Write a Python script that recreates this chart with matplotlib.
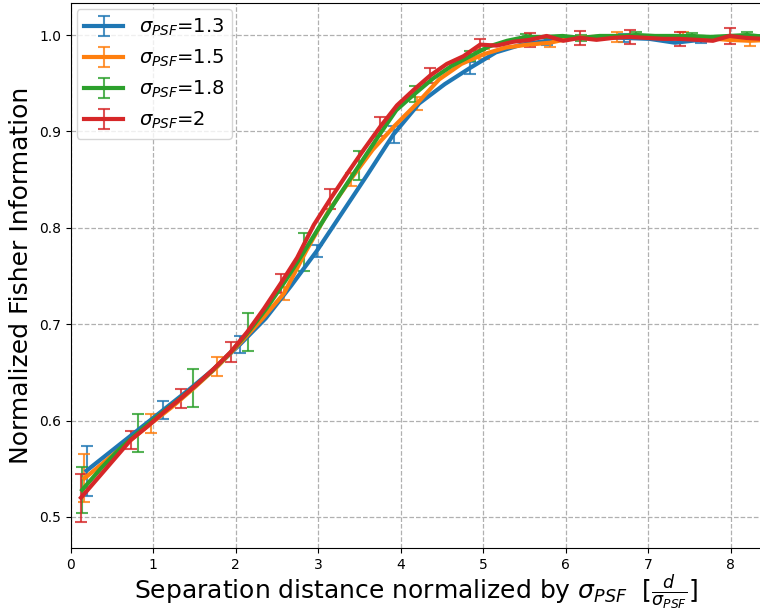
import numpy as np
import matplotlib
matplotlib.use("Agg")
import matplotlib.pyplot as plt

# separation in pixels, sampled on a common grid; x axis is d / sigma_PSF
separation_px = np.array([
    0.250, 0.653, 1.056, 1.459, 1.862, 2.265, 2.668, 3.071, 3.474, 3.877,
    4.280, 4.683, 5.086, 5.489, 5.892, 6.295, 6.698, 7.101, 7.504, 7.907,
    8.310, 8.713, 9.116, 9.519, 9.922, 10.325, 10.728, 11.131, 11.534, 11.937,
    12.340, 12.743, 13.146, 13.549, 13.952, 14.355, 14.758, 15.161, 15.564, 15.967,
    16.370, 16.773, 17.176,
])

sigmas = [1.3, 1.5, 1.8, 2]
colors = ["#1f77b4", "#ff7f0e", "#2ca02c", "#d62728"]

fisher_13 = [
    0.548, 0.569, 0.590, 0.611, 0.632, 0.654, 0.679, 0.706, 0.740, 0.776,
    0.816, 0.856, 0.897, 0.929, 0.949, 0.966, 0.982, 0.990, 0.994, 0.997,
    0.998, 0.997, 0.996, 0.992, 0.995, 0.998, 0.999, 0.998,
]
err_13 = [0.026, 0.009, 0.009, 0.006, 0.009, 0.006, 0.004, 0.004, 0.003, 0.003]

fisher_15 = [
    0.540, 0.559, 0.578, 0.597, 0.615, 0.635, 0.656, 0.680, 0.705, 0.732,
    0.776, 0.817, 0.850, 0.881, 0.906, 0.929, 0.954, 0.970, 0.980, 0.987,
    0.990, 0.992, 0.997, 0.998, 0.998, 0.998, 0.998, 0.999, 0.997, 0.995,
    0.994, 0.995,
]
err_15 = [0.025, 0.010, 0.010, 0.007, 0.007, 0.007, 0.005, 0.004, 0.005, 0.004, 0.005]

fisher_18 = [
    0.528, 0.550, 0.570, 0.587, 0.603, 0.618, 0.634, 0.651, 0.670, 0.692,
    0.717, 0.745, 0.775, 0.806, 0.836, 0.865, 0.894, 0.922, 0.939, 0.955,
    0.968, 0.978, 0.988, 0.994, 0.998, 0.998, 0.999, 0.997, 0.999, 0.999,
    1.000, 0.999, 0.999, 0.999, 0.998, 0.999, 1.000, 0.998,
]
err_18 = [0.024, 0.020, 0.020, 0.020, 0.020, 0.015, 0.008, 0.005, 0.003, 0.003, 0.003, 0.003, 0.003]

fisher_20 = [
    0.520, 0.540, 0.560, 0.580, 0.594, 0.609, 0.623, 0.638, 0.654, 0.671,
    0.692, 0.716, 0.742, 0.769, 0.803, 0.830, 0.856, 0.881, 0.905, 0.927,
    0.943, 0.958, 0.970, 0.978, 0.990, 0.989, 0.993, 0.995, 0.999, 0.994,
    0.997, 0.995, 0.997, 0.998, 0.997, 0.996, 0.996, 0.995, 0.994, 0.999,
    0.997, 0.996, 0.996,
]
err_20 = [0.025, 0.009, 0.010, 0.010, 0.010, 0.010, 0.010, 0.008, 0.006, 0.007,
          0.007, 0.007, 0.007, 0.008, 0.007]

series = [
    (fisher_13, err_13),
    (fisher_15, err_15),
    (fisher_18, err_18),
    (fisher_20, err_20),
]

fig = plt.figure(figsize=(7.6, 6.12), dpi=100)
ax = fig.add_axes([0.0930, 0.1046, 0.9100, 0.8905])

for sigma, color, (vals, errs) in zip(sigmas, colors, series):
    y = np.asarray(vals)
    x = separation_px[: len(y)] / sigma
    yerr = np.zeros(len(y))
    yerr[::3] = errs
    cont = ax.errorbar(
        x, y, yerr=yerr, errorevery=3, color=color, linewidth=3,
        elinewidth=1.5, capsize=4.5, capthick=1.5,
        label=rf"$\sigma_{{PSF}}$={sigma:g}",
    )
    for artist in list(cont[1]) + list(cont[2]):
        artist.set_alpha(0.8)

ax.set_xlim(0, 8.38)
ax.set_ylim(0.4678, 1.0332)
ax.grid(True, linestyle="--", color="#b0b0b0", linewidth=0.9)
ax.set_axisbelow(True)
ax.set_ylabel("Normalized Fisher Information", fontsize=18)
ax.set_xlabel(r"Separation distance normalized by $\sigma_{PSF}$  $[\frac{d}{\sigma_{PSF}}]$",
              fontsize=18, labelpad=1)
ax.legend(loc="upper left", fontsize=14, borderaxespad=0.3)

fig.savefig("out.png", dpi=100)
